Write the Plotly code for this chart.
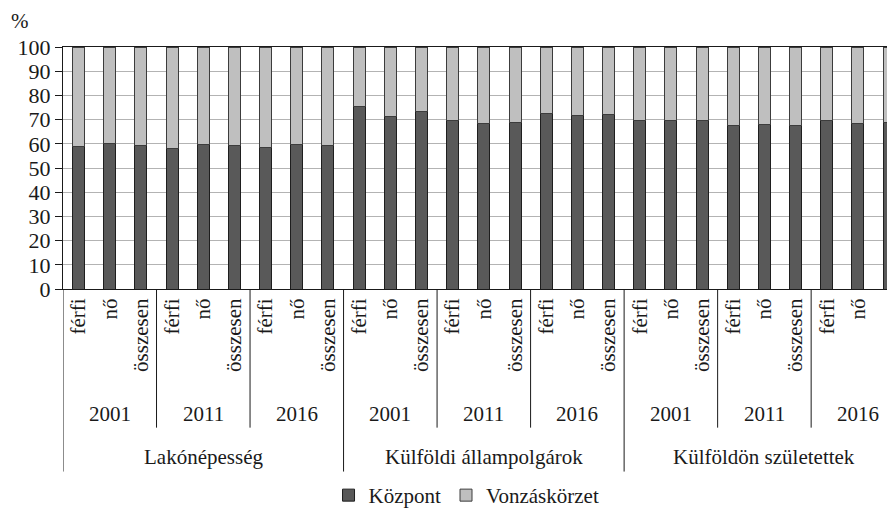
import plotly.graph_objects as go

groups = ["Lakónépesség", "Külföldi állampolgárok", "Külföldön születettek"]
years = ["2001", "2011", "2016"]
sexes = ["férfi", "nő", "összesen"]

kozpont = [58.8, 60.2, 59.4, 58.2, 59.9, 59.1, 58.5, 59.9, 59.2,
           75.3, 71.4, 73.4, 69.5, 68.5, 69.0, 72.4, 71.7, 72.1,
           69.5, 69.5, 69.5, 67.6, 68.0, 67.7, 69.5, 68.3, 68.8]
vonzas = [41.2, 39.8, 40.6, 41.8, 40.1, 40.9, 41.5, 40.1, 40.8,
          24.7, 28.6, 26.6, 30.5, 31.5, 31.0, 27.6, 28.3, 27.9,
          30.5, 30.5, 30.5, 32.4, 32.0, 32.3, 30.5, 31.7, 31.2]

y_ticks = list(range(0, 101, 10))

FONT = "Liberation Serif, Times New Roman, serif"
TXT = "#1a1a1a"
LINE = "#1a1a1a"

n = len(groups) * len(years) * len(sexes)
xs = list(range(n))
tick_text = [sexes[i % len(sexes)] for i in xs]

fig = go.Figure()
fig.add_trace(go.Bar(x=xs, y=kozpont, name="Központ",
                     marker=dict(color="#595959", line=dict(color="#1e1e1e", width=1))))
fig.add_trace(go.Bar(x=xs, y=vonzas, name="Vonzáskörzet",
                     marker=dict(color="#bfbfbf", line=dict(color="#3c3c3c", width=1))))

plot_h = 242.6   # px, used to convert layout offsets to paper coords
top_m = 38.7

def py(px_below):
    return -px_below / plot_h

shapes = []
annotations = []
per_group = len(years) * len(sexes)
# left edge line
shapes.append(dict(type="line", xref="x", yref="paper", x0=-0.5, x1=-0.5,
                   y0=0, y1=py(183), line=dict(color=LINE, width=1)))
for g, gname in enumerate(groups):
    g0 = g * per_group
    for yi, yname in enumerate(years):
        s0 = g0 + yi * len(sexes)
        end = s0 + len(sexes) - 0.5
        last_in_group = (yi == len(years) - 1)
        shapes.append(dict(type="line", xref="x", yref="paper", x0=end, x1=end,
                           y0=0, y1=py(183 if last_in_group else 139),
                           line=dict(color=LINE, width=1)))
        annotations.append(dict(text=yname, xref="x", yref="paper",
                                x=s0 + (len(sexes) - 1) / 2, y=py(125),
                                showarrow=False, font=dict(family=FONT, size=21, color=TXT),
                                yanchor="middle"))
    annotations.append(dict(text=gname, xref="x", yref="paper",
                            x=g0 + (per_group - 1) / 2, y=py(168),
                            showarrow=False, font=dict(family=FONT, size=21, color=TXT),
                            yanchor="middle"))

annotations.append(dict(text="%", xref="paper", yref="paper", x=-0.052,
                        y=1 + top_m / plot_h, xanchor="center", yanchor="top", borderpad=0,
                        showarrow=False, font=dict(family=FONT, size=21, color=TXT)))

# the page body adds an 8px offset; the figure's right/bottom overflow is outside the window
fig.update_layout(
    width=887, height=530,
    margin=dict(l=55, r=0, t=top_m, b=248.7, autoexpand=False),
    barmode="stack", bargap=0.615,
    plot_bgcolor="white", paper_bgcolor="white",
    font=dict(family=FONT, size=21, color=TXT),
    shapes=shapes, annotations=annotations,
    showlegend=True,
    legend=dict(orientation="h", x=0.485, xanchor="center", y=py(207), yanchor="middle",
                font=dict(family=FONT, size=21, color=TXT), traceorder="normal",
                itemwidth=30),
    xaxis=dict(range=[-0.5, 26.19], tickmode="array", tickvals=xs, ticktext=tick_text,
               tickangle=-90, showgrid=False, showline=True, linecolor=LINE, mirror=True,
               linewidth=1, ticks="", tickfont=dict(family=FONT, size=21, color=TXT),
               zeroline=False, automargin=False),
    yaxis=dict(range=[0, 100], tickvals=y_ticks, showgrid=True, gridcolor="#b3b3b3",
               gridwidth=1, showline=True, linecolor=LINE, linewidth=1,
               ticks="outside", ticklen=7, tickcolor=LINE,
               tickfont=dict(family=FONT, size=22, color=TXT), zeroline=False,
               automargin=False),
)

fig.write_html("out.html")
